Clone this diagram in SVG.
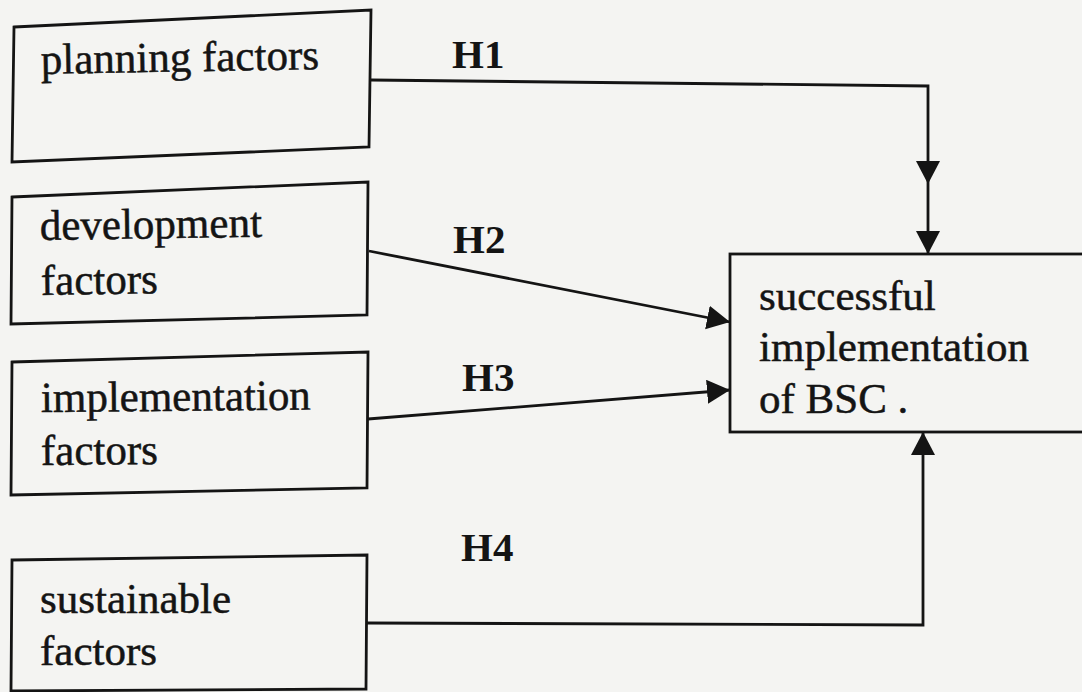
<svg xmlns="http://www.w3.org/2000/svg" width="1082" height="692" viewBox="0 0 1082 692">
<style>
.box{fill:none;stroke:#141414;stroke-width:2.8;stroke-linejoin:miter}
.lbl{font-family:"Liberation Serif","Times New Roman",serif;font-size:43px;fill:#141414;stroke:#141414;stroke-width:0.5}
.h{font-family:"Liberation Serif","Times New Roman",serif;font-size:41px;font-weight:bold;fill:#141414}
.con{fill:none;stroke:#141414;stroke-width:2.8}
</style>
<defs>
<marker id="arr" markerUnits="userSpaceOnUse" markerWidth="26" markerHeight="26" refX="23" refY="12" orient="auto" viewBox="0 0 26 26">
<path d="M0,0 L23,12 L0,24 z" fill="#141414"/>
</marker>
</defs>
<rect x="0" y="0" width="1082" height="692" fill="#f4f4f2"/>
<g id="planning">
<polygon class="box" points="14,27 371,10 369,147 12,162"/>
<text class="lbl" x="41" y="74" transform="rotate(-1 41 74)">planning factors</text>
</g>
<g id="development">
<polygon class="box" points="12,197 368,182 367,315 11,324"/>
<text class="lbl" x="40" y="240" transform="rotate(-0.8 40 240)">development</text>
<text class="lbl" x="41" y="295" transform="rotate(-0.8 41 295)">factors</text>
</g>
<g id="implementation">
<polygon class="box" points="12,362 368,352 367,488 11,495"/>
<text class="lbl" x="41" y="412" transform="rotate(-0.5 41 412)">implementation</text>
<text class="lbl" x="41" y="465" transform="rotate(-0.5 41 465)">factors</text>
</g>
<g id="sustainable">
<polygon class="box" points="12,560 367,555 366,689 11,691"/>
<text class="lbl" x="40" y="613">sustainable</text>
<text class="lbl" x="40" y="665">factors</text>
</g>
<g id="success">
<rect class="box" x="730" y="254" width="400" height="178"/>
<text class="lbl" x="759" y="310">successful</text>
<text class="lbl" x="759" y="361">implementation</text>
<text class="lbl" x="759" y="413">of BSC .</text>
</g>
<g id="connectors">
<path class="con" d="M371,80 L928,86 L928,184" marker-end="url(#arr)"/>
<path class="con" d="M928,184 L928,254" marker-end="url(#arr)"/>
<path class="con" d="M369,251 L730,322" marker-end="url(#arr)"/>
<path class="con" d="M368,419 L730,390" marker-end="url(#arr)"/>
<path class="con" d="M366,623 L923,625 L923,432" marker-end="url(#arr)"/>
<text class="h" x="452" y="68">H1</text>
<text class="h" x="453" y="253">H2</text>
<text class="h" x="462" y="391">H3</text>
<text class="h" x="461" y="561">H4</text>
</g>
</svg>
